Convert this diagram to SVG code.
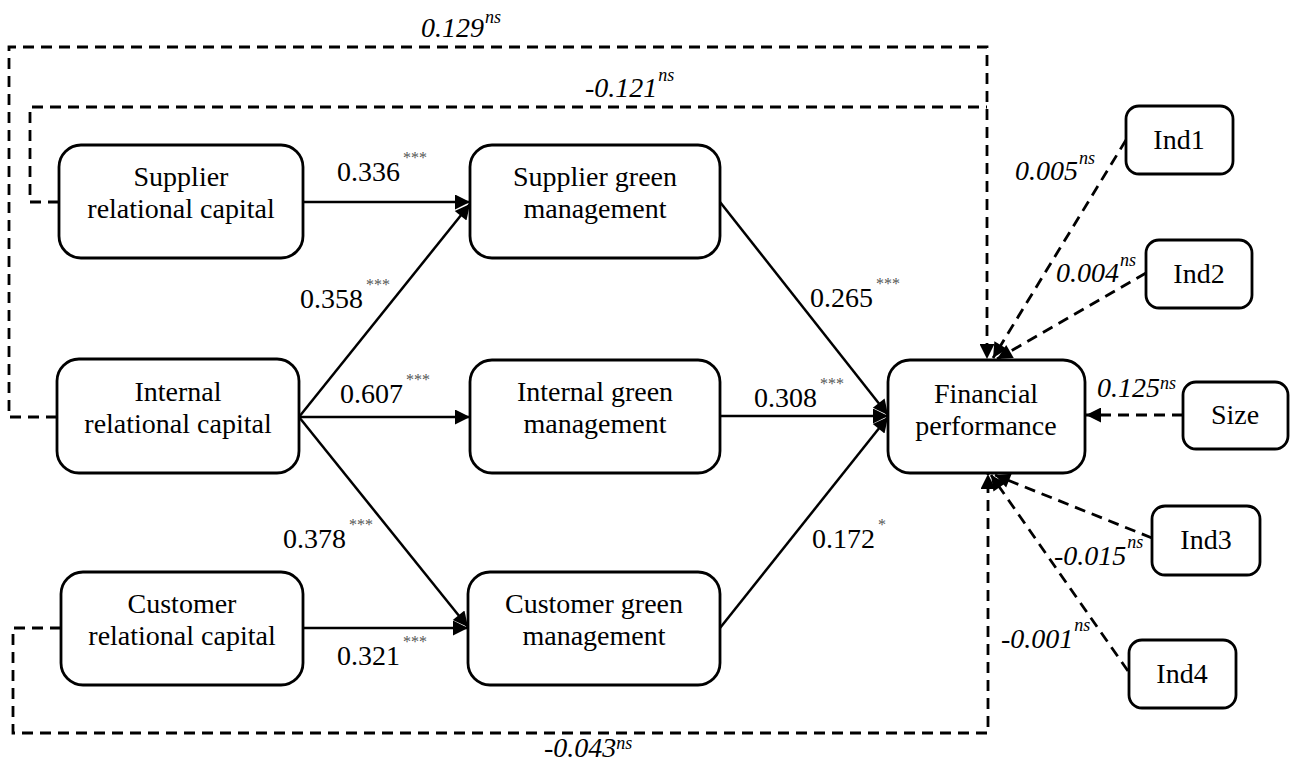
<svg xmlns="http://www.w3.org/2000/svg" width="1296" height="762" viewBox="0 0 1296 762">
  <style>
    .box { fill: #fff; stroke: #000; stroke-width: 2.8; }
    .lbl { font-family: 'Liberation Serif', 'DejaVu Serif', serif; font-size: 28px; fill: #000; text-anchor: middle; }
    .coef { font-family: 'Liberation Serif', 'DejaVu Serif', serif; font-size: 28px; fill: #000; }
    .it { font-style: italic; }
    .star { font-size: 16px; fill: #555; }
    .ns { font-size: 18px; font-style: italic; fill: #000; }
    .solid { fill: none; stroke: #000; stroke-width: 2.5; }
    .dash { fill: none; stroke: #000; stroke-width: 2.8; stroke-dasharray: 11 7; }
  </style>
  <defs>
    <marker id="ah" viewBox="0 0 10 10" refX="10" refY="5" markerUnits="userSpaceOnUse" markerWidth="18" markerHeight="15" orient="auto">
      <path d="M0,0 L10,5 L0,10 z" fill="#000"/>
    </marker>
  </defs>

  <!-- connectors -->
  <g id="connectors">
    <!-- structural paths -->
    <line class="solid" x1="303" y1="202" x2="470" y2="202" marker-end="url(#ah)"/>
    <line class="solid" x1="299" y1="417" x2="470" y2="204" marker-end="url(#ah)"/>
    <line class="solid" x1="299" y1="417" x2="470" y2="417" marker-end="url(#ah)"/>
    <line class="solid" x1="299" y1="417" x2="468" y2="627" marker-end="url(#ah)"/>
    <line class="solid" x1="303" y1="628" x2="468" y2="628" marker-end="url(#ah)"/>
    <line class="solid" x1="720" y1="202" x2="888" y2="415" marker-end="url(#ah)"/>
    <line class="solid" x1="720" y1="416" x2="888" y2="416" marker-end="url(#ah)"/>
    <line class="solid" x1="720" y1="628" x2="888" y2="417" marker-end="url(#ah)"/>

    <!-- direct paths to financial performance -->
    <path class="dash" d="M57,417 H9 V47 H987 V359" marker-end="url(#ah)"/>
    <path class="dash" d="M59,202 H30 V107 H987"/>
    <path class="dash" d="M61,628 H13 V733 H988 V474" marker-end="url(#ah)"/>

    <!-- control variables -->
    <line class="dash" x1="1126" y1="140" x2="993" y2="358" marker-end="url(#ah)"/>
    <line class="dash" x1="1146" y1="273" x2="997" y2="359" marker-end="url(#ah)"/>
    <line class="dash" x1="1183" y1="415" x2="1086" y2="415" marker-end="url(#ah)"/>
    <line class="dash" x1="1152" y1="538" x2="995" y2="475" marker-end="url(#ah)"/>
    <line class="dash" x1="1128" y1="671" x2="991" y2="475" marker-end="url(#ah)"/>
  </g>

  <!-- coefficients -->
  <g id="coefficients">
    <text class="coef" x="337" y="181">0.336<tspan class="star" dx="3" dy="-18">***</tspan></text>
    <text class="coef" x="300" y="308">0.358<tspan class="star" dx="3" dy="-18">***</tspan></text>
    <text class="coef" x="340" y="403">0.607<tspan class="star" dx="3" dy="-18">***</tspan></text>
    <text class="coef" x="283" y="548">0.378<tspan class="star" dx="3" dy="-18">***</tspan></text>
    <text class="coef" x="337" y="665">0.321<tspan class="star" dx="3" dy="-18">***</tspan></text>
    <text class="coef" x="810" y="307">0.265<tspan class="star" dx="3" dy="-18">***</tspan></text>
    <text class="coef" x="754" y="407">0.308<tspan class="star" dx="3" dy="-18">***</tspan></text>
    <text class="coef" x="812" y="548">0.172<tspan class="star" dx="3" dy="-18">*</tspan></text>

    <text class="coef it" x="421" y="37">0.129<tspan class="ns" dx="1" dy="-14">ns</tspan></text>
    <text class="coef it" x="585" y="97">-0.121<tspan class="ns" dx="1" dy="-16">ns</tspan></text>
    <text class="coef it" x="544" y="757">-0.043<tspan class="ns" dx="0" dy="-8">ns</tspan></text>
    <text class="coef it" x="1015" y="180">0.005<tspan class="ns" dx="1" dy="-16">ns</tspan></text>
    <text class="coef it" x="1056" y="282">0.004<tspan class="ns" dx="1" dy="-16">ns</tspan></text>
    <text class="coef it" x="1097" y="397">0.125<tspan class="ns" dx="0" dy="-8">ns</tspan></text>
    <text class="coef it" x="1054" y="565">-0.015<tspan class="ns" dx="1" dy="-17">ns</tspan></text>
    <text class="coef it" x="1001" y="648">-0.001<tspan class="ns" dx="1" dy="-17">ns</tspan></text>
  </g>

  <!-- nodes -->
  <g id="supplier-relational-capital">
    <rect class="box" x="59" y="145" width="244" height="113" rx="22"/>
    <text class="lbl" x="181" y="186">Supplier</text>
    <text class="lbl" x="181" y="218">relational capital</text>
  </g>
  <g id="internal-relational-capital">
    <rect class="box" x="57" y="359" width="242" height="114" rx="22"/>
    <text class="lbl" x="178" y="401">Internal</text>
    <text class="lbl" x="178" y="433">relational capital</text>
  </g>
  <g id="customer-relational-capital">
    <rect class="box" x="61" y="572" width="242" height="113" rx="22"/>
    <text class="lbl" x="182" y="613">Customer</text>
    <text class="lbl" x="182" y="645">relational capital</text>
  </g>
  <g id="supplier-green-management">
    <rect class="box" x="470" y="145" width="250" height="113" rx="22"/>
    <text class="lbl" x="595" y="186">Supplier green</text>
    <text class="lbl" x="595" y="218">management</text>
  </g>
  <g id="internal-green-management">
    <rect class="box" x="470" y="360" width="250" height="113" rx="22"/>
    <text class="lbl" x="595" y="401">Internal green</text>
    <text class="lbl" x="595" y="433">management</text>
  </g>
  <g id="customer-green-management">
    <rect class="box" x="468" y="572" width="252" height="113" rx="22"/>
    <text class="lbl" x="594" y="613">Customer green</text>
    <text class="lbl" x="594" y="645">management</text>
  </g>
  <g id="financial-performance">
    <rect class="box" x="888" y="360" width="197" height="113" rx="22"/>
    <text class="lbl" x="986" y="403">Financial</text>
    <text class="lbl" x="986" y="435">performance</text>
  </g>
  <g id="ind1">
    <rect class="box" x="1126" y="106" width="107" height="68" rx="13"/>
    <text class="lbl" x="1179" y="149">Ind1</text>
  </g>
  <g id="ind2">
    <rect class="box" x="1146" y="240" width="106" height="68" rx="13"/>
    <text class="lbl" x="1199" y="283">Ind2</text>
  </g>
  <g id="size">
    <rect class="box" x="1183" y="382" width="105" height="67" rx="13"/>
    <text class="lbl" x="1235" y="424">Size</text>
  </g>
  <g id="ind3">
    <rect class="box" x="1152" y="506" width="108" height="69" rx="13"/>
    <text class="lbl" x="1206" y="549">Ind3</text>
  </g>
  <g id="ind4">
    <rect class="box" x="1129" y="640" width="107" height="68" rx="13"/>
    <text class="lbl" x="1182" y="683">Ind4</text>
  </g>
</svg>
